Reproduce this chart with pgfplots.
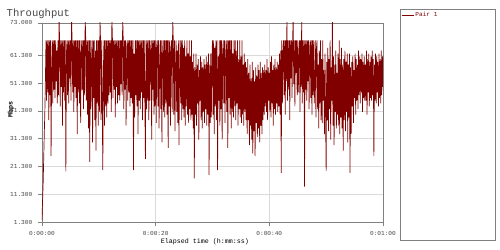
\documentclass[border=0pt]{standalone}
\usepackage{pgfplots}
\pgfplotsset{compat=1.18}
\usepackage{pgfplotstable}
\usepackage{fontspec}
\setmainfont{Liberation Mono}
\definecolor{maroon}{RGB}{128,0,0}
\definecolor{gridc}{RGB}{218,218,218}
\definecolor{framec}{RGB}{128,128,128}
\definecolor{titlec}{RGB}{70,70,70}

\pgfplotstableread[row sep=\\]{
y\\
2\\9\\15\\24\\33\\41\\52\\66.7\\45\\66.7\\48\\66.7\\38\\66.7\\47\\66.7\\25\\58\\66.7\\44\\
66.7\\49\\66.7\\46\\66.7\\52\\63\\44\\66.7\\47\\75\\66.7\\43\\66.7\\50\\66.7\\36\\66.7\\48\\66.7\\
45\\66.7\\19.5\\62\\66.7\\47\\66.7\\44\\66.7\\53\\66.7\\45\\75\\66.7\\48\\66.7\\41\\66.7\\50\\66.7\\
46\\66.7\\33\\66.7\\48\\66.7\\44\\66.7\\37\\62\\66.7\\49\\66.7\\42\\66.7\\47\\75\\66.7\\45\\66.7\\
40\\66.7\\35\\66.7\\23\\66.7\\42\\58\\66.7\\30\\66.7\\46\\66.7\\38\\63\\27\\66.7\\44\\66.7\\36\\
66.7\\41\\75\\66.7\\38\\66.7\\45\\20\\55\\66.7\\36\\66.7\\43\\66.7\\39\\66.7\\44\\66.7\\47\\66.7\\
48\\66.7\\41\\75\\66.7\\46\\66.7\\49\\66.7\\39\\66.7\\50\\66.7\\44\\66.7\\47\\66.7\\45\\66.7\\51\\
66.7\\47\\75\\66.7\\42\\66.7\\49\\66.7\\36\\64\\66.7\\45\\66.7\\48\\66.7\\43\\66.7\\46\\66.7\\44\\
66.7\\20\\62\\39\\66.7\\47\\66.7\\43\\66.7\\33\\66.7\\45\\66.7\\42\\66.7\\48\\66.7\\38\\66.7\\46\\
66.7\\44\\24\\66.7\\42\\66.7\\45\\66.7\\38\\66.7\\45\\63\\66.7\\31\\66.7\\49\\66.7\\40\\66.7\\43\\
66.7\\37\\64\\66.7\\43\\66.7\\35\\59\\66.7\\42\\66.7\\30\\61\\66.7\\41\\66.7\\39\\66.7\\44\\66.7\\
40\\66.7\\28\\66.7\\43\\66.7\\36\\62\\66.7\\41\\75\\66.7\\40\\66.7\\34\\58\\66.7\\41\\63\\37\\
66.7\\29\\55\\66.7\\44\\66.7\\38\\66.7\\42\\64\\39\\66.7\\36\\61\\43\\66.7\\40\\62\\37\\66.7\\
42\\61\\38\\66.7\\40\\59\\35\\62\\17\\57\\40\\62\\36\\58\\44\\60\\31\\56\\45\\61\\
38\\59\\35\\57\\41\\60\\37\\58\\42\\61\\36\\59\\40\\62\\18.3\\58\\37\\62\\39\\60\\
66.7\\40\\66.7\\33\\64\\43\\66.7\\38\\66.7\\20\\61\\45\\66.7\\36\\66.7\\42\\66.7\\31\\63\\66.7\\
44\\66.7\\37\\60\\66.7\\41\\66.7\\28\\66.7\\46\\66.7\\40\\66.7\\35\\66.7\\41\\62\\39\\66.7\\43\\
66.7\\38\\63\\44\\66.7\\36\\60\\42\\66.7\\39\\61\\37\\66.7\\40\\58\\36\\62\\41\\59\\38\\
57\\33\\60\\38\\55\\29\\58\\36\\53\\31\\59\\26\\56\\34\\52\\25\\57\\37\\54\\32\\
58\\35\\56\\30\\59\\36\\55\\33\\57\\38\\56\\40\\58\\43\\56\\41\\60\\38\\57\\45\\
55\\41\\59\\39\\61\\44\\56\\36\\58\\42\\60\\40\\57\\44\\59\\41\\58\\43\\62\\40\\
63\\19\\66.7\\44\\62\\66.7\\47\\66.7\\40\\66.7\\52\\75\\45\\66.7\\49\\66.7\\38\\66.7\\53\\66.7\\
46\\66.7\\75\\51\\66.7\\43\\66.7\\55\\66.7\\47\\66.7\\48\\62\\66.7\\41\\66.7\\50\\75\\44\\66.7\\
48\\66.7\\14\\66.7\\49\\66.7\\45\\66.7\\52\\66.7\\42\\64\\66.7\\46\\66.7\\40\\66.7\\47\\66.7\\44\\
50\\66.7\\39\\64\\66.7\\42\\58\\35\\63\\44\\66.7\\38\\60\\37\\66.7\\45\\56\\33\\62\\40\\
19.6\\59\\38\\64\\34\\60\\42\\66.7\\31\\57\\45\\75\\36\\61\\29\\58\\41\\63\\35\\55\\
40\\62\\36\\66.7\\33\\60\\39\\64\\35\\58\\27\\60\\38\\63\\34\\59\\41\\62\\30\\58\\
39\\62\\19\\57\\33\\59\\43\\61\\37\\56\\46\\62\\40\\60\\45\\58\\42\\63\\47\\61\\
44\\60\\48\\62\\41\\59\\46\\61\\45\\58\\45\\63\\40\\60\\48\\62\\43\\59\\46\\61\\
45\\63\\47\\60\\25\\58\\45\\62\\44\\61\\48\\59\\43\\62\\46\\60\\44\\63\\47\\61\\
50\\
}\tp

\begin{document}
\begin{tikzpicture}
\useasboundingbox (-30.24pt,-20.16pt) rectangle (329.76pt,159.84pt);
\begin{axis}[
  at={(0pt,0pt)}, anchor=south west,
  scale only axis, width=245.5pt, height=143.3pt,
  xmin=0, xmax=60, ymin=1.3, ymax=73,
  xtick={0,20,40,60},
  xticklabels={0:00:00,0:00:20,0:00:40,0:01:00},
  ytick={1.3,11.3,21.3,31.3,41.3,51.3,61.3,73},
  yticklabels={1.300,11.300,21.300,31.300,41.300,51.300,61.300,73.000},
  /pgf/number format/assume math mode=true,
  tick label style={font=\fontsize{4.4}{5}\selectfont, text=titlec},
  yticklabel style={xshift=-0.5pt},
  tick align=outside, major tick length=3pt,
  tick style={framec, line width=0.4pt},
  xtick pos=bottom, ytick pos=left,
  grid=major, major grid style={gridc, line width=0.4pt},
  axis line style={framec, line width=0.5pt},
  xlabel={Elapsed time (h:mm:ss)},
  xlabel style={at={(axis description cs:0.478,-0.1005)}, anchor=center, font=\fontsize{4.8}{6}\selectfont, text=black},
  ylabel={Mbps},
  ylabel style={at={(axis description cs:-0.091,0.563)}, anchor=center, font=\fontsize{4.8}{6}\selectfont\bfseries, text=black},
  title={Throughput},
  every axis title shift=0pt,
  title style={at={(axis description cs:-0.118,1.045)}, anchor=west, yshift=0pt, font=\fontsize{7.6}{9}\selectfont, text=titlec},
  legend style={at={(axis description cs:1.053,1.04)}, anchor=west, draw=none, fill=none,
    font=\fontsize{4.4}{5}\selectfont, text=maroon, inner sep=0pt, nodes={inner sep=1pt}},
  legend image code/.code={\draw[maroon, line width=0.6pt] (0pt,0pt) -- (8.6pt,0pt);},
]
\addplot[maroon, line width=0.5pt] table[x expr=\coordindex*0.1, y=y] {\tp};
\addlegendentry{Pair 1}
\end{axis}
\draw[framec, line width=0.5pt] (257.76pt,-12.96pt) rectangle (326.16pt,153.36pt);
\end{tikzpicture}
\end{document}
